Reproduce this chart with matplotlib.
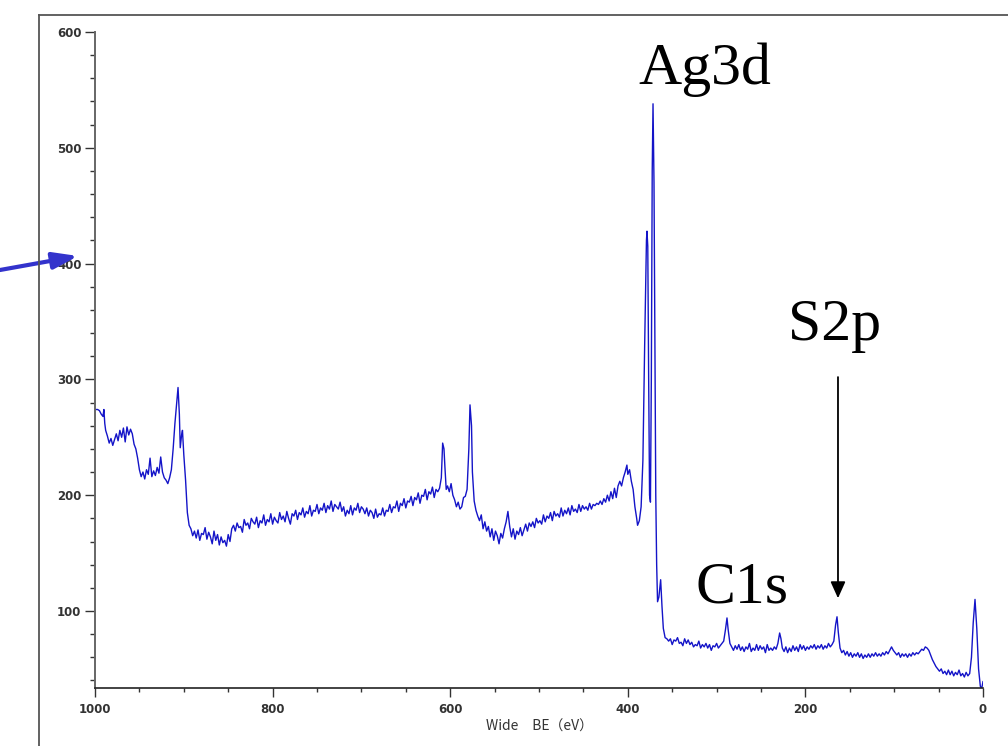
import matplotlib
matplotlib.use("Agg")
import matplotlib.pyplot as plt
from matplotlib.lines import Line2D
from matplotlib.ticker import MultipleLocator

# ---- data, binding energy in eV vs counts
be = [
    1000, 997, 995, 993, 991, 990, 989, 988,
    986, 984, 982, 980, 978, 976, 974, 972, 970, 968, 966, 964, 962, 960, 958,
    956, 954, 952, 950, 948,
    946, 944, 942, 940, 938, 936, 934, 932, 930, 928, 926, 924, 922, 920, 918,
    916, 914, 912, 910, 908, 906.5, 905, 904, 902.5, 901.5, 900, 898, 896, 894,
    892, 890, 888, 886, 884, 882, 880, 878, 876, 874, 872, 870, 868, 866, 864,
    862, 860, 858, 856, 854, 852, 850, 848, 846, 844, 842, 840, 838, 836, 834,
    832, 830, 828, 826, 824, 822, 820, 818, 816, 814, 812, 810, 808, 806, 804,
    802, 800, 798, 796, 794, 792, 790, 788, 786, 784, 782, 780, 778, 776, 774,
    772, 770, 768, 766, 764, 762, 760, 758, 756, 754, 752, 750, 748, 746, 744,
    742, 740, 738, 736, 734, 732, 730, 728, 726, 724, 722, 720, 718, 716, 714,
    712, 710, 708, 706, 704, 702, 700, 698, 696, 694, 692, 690, 688, 686, 684,
    682, 680, 678, 676, 674, 672, 670, 668, 666, 664, 662, 660, 658, 656, 654,
    652, 650, 648, 646, 644, 642, 640, 638, 636, 634, 632, 630, 628, 626, 624,
    622, 620, 618, 616, 614, 612, 610, 608.5, 607, 606, 604.5, 603, 601, 599,
    597, 595, 593, 591, 589, 587, 585, 583, 581, 579, 577.7, 576, 575, 573, 571,
    569, 567, 565, 563, 561, 559, 557, 555, 553, 551, 549, 547, 545, 543, 541,
    539, 537, 535, 533, 531, 529, 527, 525, 523, 521, 519, 517, 515, 513, 511,
    509, 507, 505, 503, 501, 499, 497, 495, 493, 491, 489, 487, 485, 483, 481,
    479, 477, 475, 473, 471, 469, 467, 465, 463, 461, 459, 457, 455, 453, 451,
    449, 447, 445, 443, 441, 439, 437, 435, 433, 431, 429, 427, 425, 423, 421,
    419, 417, 415, 413, 411, 409, 407, 405, 403, 401, 400, 398, 396, 394, 392,
    390, 389, 387, 385, 383, 381, 379, 378.4, 377.5, 376.5, 375.5, 374.5,
    373.5, 372.5, 371.6, 370.5, 369.5, 368.5, 367.5, 366.5, 365, 363, 361.5,
    360, 358, 356,
    354, 352, 350, 348, 346, 344, 342, 340, 338, 336, 334, 332, 330, 328, 326,
    324, 322, 320, 318, 316, 314, 312, 310, 308, 306, 304, 302, 300, 298, 296,
    294, 292, 290, 288.3, 287, 285, 283, 281, 279, 277, 275, 273, 271, 269,
    267, 265, 263, 261, 259, 257, 255, 253, 251, 249, 247, 245, 243, 241, 239,
    237, 235, 233, 231, 229, 227.5, 226, 224, 222, 220, 218, 216, 214, 212,
    210, 208, 206, 204, 202, 200, 198, 196, 194, 192, 190, 188, 186, 184, 182,
    180, 178, 176, 174, 172, 170, 168, 166, 164.4, 163, 161, 159, 157, 155,
    153, 151, 149, 147, 145, 143, 141, 139, 137, 135, 133, 131, 129, 127, 125,
    123, 121, 119, 117, 115, 113, 111, 109, 107, 105, 103, 101, 99, 97, 95,
    93, 91, 89, 87, 85, 83, 81, 79, 77, 75, 73, 71, 69, 67, 65, 63, 61, 59,
    57, 55, 53, 51, 49, 47, 45, 43, 41, 39, 37, 35, 33, 31, 29, 27, 25, 23,
    21, 19, 17, 15, 13, 11, 9, 7, 5, 3, 1.5, 0,
]
counts = [
    274, 274, 273, 270, 268, 274, 262, 256,
    251, 245, 249, 243, 248, 253, 247, 256, 250, 258, 246, 259, 252, 257, 253,
    244, 240, 232, 222, 216,
    220, 214, 222, 218, 232, 216, 221, 217, 224, 219, 233, 220, 215, 213, 210,
    215, 222, 240, 262, 280, 293, 270, 241, 252, 256, 235, 213, 185, 174,
    171, 165, 169, 163, 170, 161, 167, 166, 172, 162, 168, 164, 158, 169, 161,
    166, 157, 164, 159, 161, 156, 166, 160, 171, 174, 169, 176, 172, 173, 168,
    179, 174, 176, 171, 180, 177, 175, 181, 172, 178, 176, 183, 174, 179, 177,
    184, 175, 181, 178, 176, 185, 179, 182, 177, 186, 180, 175, 184, 182, 187,
    179, 185, 183, 189, 181, 186, 184, 191, 182, 187, 186, 192, 184, 189, 187,
    193, 185, 191, 188, 195, 186, 192, 190, 188, 194, 186, 190, 182, 187, 184,
    191, 183, 189, 187, 193, 185, 190, 188, 184, 189, 182, 187, 185, 180, 188,
    181, 184, 183, 189, 182, 187, 186, 192, 185, 190, 189, 195, 186, 193, 191,
    197, 189, 195, 194, 199, 191, 198, 196, 202, 193, 200, 199, 205, 196, 203,
    201, 207, 198, 205, 203, 206, 215, 245, 240, 225, 205, 208, 203, 210,
    200, 196, 190, 194, 188, 190, 198, 199, 205, 240, 278, 260, 220, 195, 187,
    182, 178, 183, 171, 177, 169, 173, 164, 171, 161, 169, 165, 158, 167, 163,
    171, 177, 186, 173, 164, 171, 162, 169, 166, 172, 165, 170, 175, 169, 176,
    173, 177, 172, 180, 176, 178, 175, 183, 177, 182, 180, 185, 178, 186, 182,
    184, 181, 189, 182, 187, 184, 189, 183, 191, 186, 188, 185, 192, 186, 191,
    188, 190, 187, 193, 188, 192, 191, 193, 192, 195, 192, 197, 194, 200, 195,
    203, 197, 206, 198, 208, 212, 208, 215, 220, 226, 218, 222, 212, 205, 190,
    180, 174, 178, 190, 230, 330, 420, 428, 415, 300, 200, 194,
    300, 480, 538, 470, 330, 200, 140, 108, 112, 127, 104,
    85, 77, 76,
    74, 76, 71, 75, 74, 77, 72, 73, 70, 76, 72, 75, 71, 73, 69,
    71, 70, 74, 68, 71, 69, 72, 68, 71, 66, 70, 69, 72, 68, 70,
    72, 74, 84, 94, 84, 72, 69, 66, 70, 67, 71, 66, 69, 65,
    69, 67, 72, 65, 68, 66, 71, 66, 70, 67, 69, 64, 71, 66, 68,
    66, 69, 67, 72, 81, 76, 68, 65, 69, 64, 68, 65, 70, 66,
    69, 65, 71, 67, 70, 66, 69, 67, 70, 68, 71, 67, 70, 68, 71,
    67, 70, 68, 72, 69, 71, 74, 88, 95, 82, 68, 64, 66, 62,
    65, 61, 64, 60, 63, 61, 64, 60, 63, 59, 62, 60, 63, 60, 63,
    61, 64, 61, 63, 61, 64, 62, 65, 63, 66, 69, 66, 64, 62, 64,
    60, 63, 61, 63, 60, 63, 61, 64, 62, 64, 63, 65, 67, 66, 69, 68, 66, 62,
    58, 55, 52, 50, 48, 50, 46, 48, 45, 49, 45, 48, 44, 47, 45, 49, 44, 46,
    43, 47, 44, 46, 60, 90, 110, 85, 50, 35, 33, 39,
]

x_ticks = [1000, 800, 600, 400, 200, 0]
y_ticks = [100, 200, 300, 400, 500, 600]
peak_labels = ["Ag3d", "S2p", "C1s"]
x_label = "Wide\u3000BE\uff08eV\uff09"

line_color = "#1414c8"
tick_color = "#333333"

fig = plt.figure(figsize=(10.08, 7.46), dpi=100)
ax = fig.add_axes([95 / 1008, 58 / 746, 888 / 1008, 656 / 746])

ax.plot(be, counts, color=line_color, lw=1.0)

ax.set_xlim(1000, 0)
ax.set_ylim(33.5, 600)
ax.set_xticks(x_ticks)
ax.set_yticks(y_ticks)
ax.xaxis.set_minor_locator(MultipleLocator(50))
ax.yaxis.set_minor_locator(MultipleLocator(20))

for s in ("top", "right"):
    ax.spines[s].set_visible(False)
ax.spines["left"].set_color("#666666")
ax.spines["left"].set_linewidth(1.4)
ax.spines["bottom"].set_color("#222222")
ax.spines["bottom"].set_linewidth(1.2)

ax.tick_params(axis="y", which="major", length=7.2, width=1.0, color=tick_color,
               labelsize=8.5, labelcolor=tick_color, pad=2.5)
ax.tick_params(axis="y", which="minor", length=3.6, width=1.0, color=tick_color)
ax.tick_params(axis="x", which="major", length=6.5, width=1.0, color=tick_color,
               labelsize=8.5, labelcolor=tick_color, pad=4)
ax.tick_params(axis="x", which="minor", length=3, width=1.0, color=tick_color)
for lab in ax.get_xticklabels() + ax.get_yticklabels():
    lab.set_fontweight("bold")
    lab.set_family("DejaVu Sans")

ax.set_xlabel(x_label, fontsize=10, color=tick_color,
              family=["Noto Sans CJK JP", "DejaVu Sans"], labelpad=3)

# ---- peak labels
serif = "Liberation Serif"
ax.text(313, 555, peak_labels[0], fontsize=43, family=serif, ha="center", va="baseline")
ax.text(167, 334, peak_labels[1], fontsize=43, family=serif, ha="center", va="baseline")
ax.text(271, 107, peak_labels[2], fontsize=43, family=serif, ha="center", va="baseline")

ax.annotate("", xy=(163.3, 111), xytext=(163.3, 302),
            arrowprops=dict(arrowstyle="-|>,head_length=1.0,head_width=0.45",
                            color="black", lw=1.3, shrinkA=0, shrinkB=0))

# blue pointer arrow left of the axis
ax.annotate("", xy=(78 / 1008, 1 - 256 / 746), xytext=(0, 1 - 270 / 746),
            xycoords="figure fraction", textcoords="figure fraction",
            annotation_clip=False,
            arrowprops=dict(arrowstyle="-|>,head_length=1.5,head_width=0.5",
                            color="#3333cc", lw=3, shrinkA=0, shrinkB=0,
                            mutation_scale=10))

# outer frame of the original page
fig.add_artist(Line2D([39 / 1008, 39 / 1008], [0, 1 - 15 / 746],
                      transform=fig.transFigure, color="#555555", lw=1.3))
fig.add_artist(Line2D([39 / 1008, 1], [1 - 15 / 746, 1 - 15 / 746],
                      transform=fig.transFigure, color="#555555", lw=1.3))

fig.savefig("out.png", dpi=100)
